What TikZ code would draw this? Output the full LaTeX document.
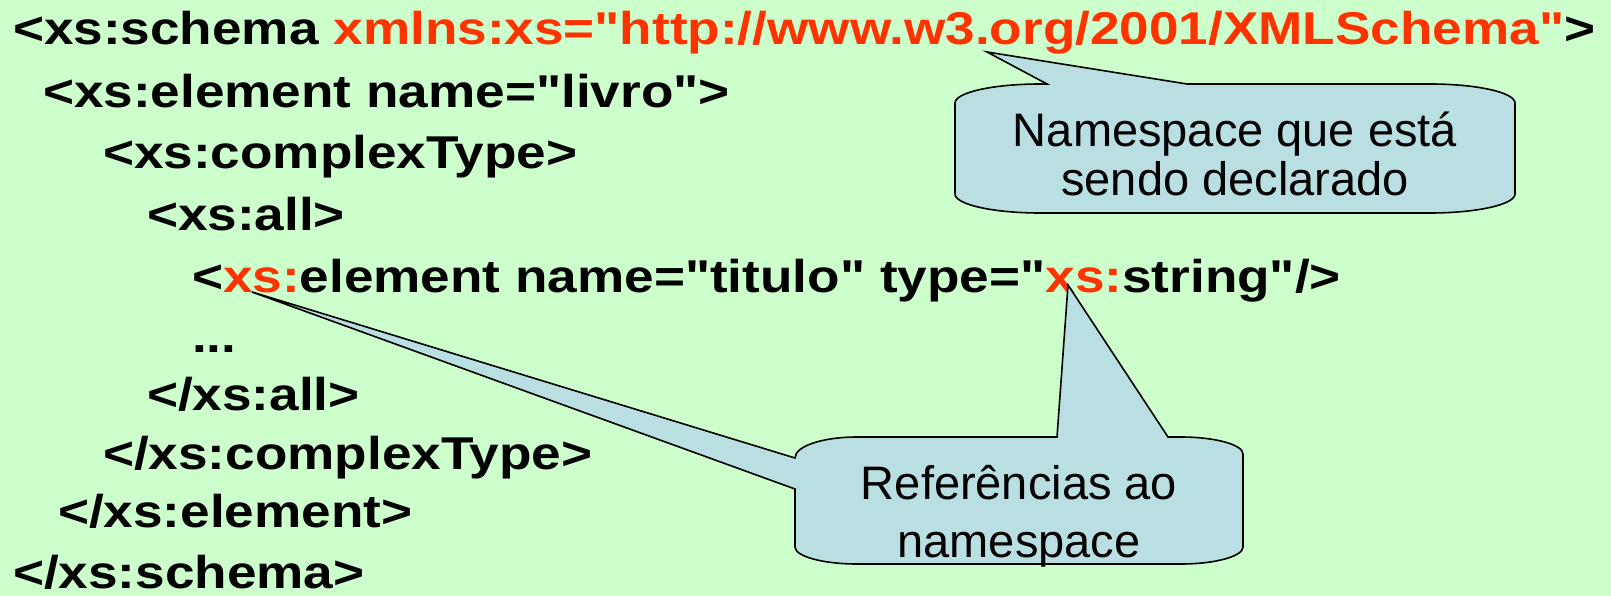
\documentclass[tikz,border=0pt]{standalone}
\usepackage{fontspec}
\setmainfont{Liberation Sans}
\newfontfamily\codefont{Liberation Sans}[FakeStretch=1.155]
\definecolor{pagebg}{HTML}{CCFFCC}
\definecolor{xsred}{HTML}{FF3300}
\definecolor{calloutfill}{HTML}{B9DFE3}
\newcommand\redtxt[1]{\textcolor{xsred}{#1}}
\tikzset{
  codeline/.style={anchor=base west, inner sep=0pt, outer sep=0pt,
    font=\codefont\bfseries\fontsize{46}{50}\selectfont},
  callouttext/.style={anchor=base, inner sep=0pt, outer sep=0pt,
    font=\fontsize{47}{50}\selectfont},
  callout/.style={draw=black, line width=1.6pt, fill=calloutfill, line join=miter}
}
\begin{document}
\begin{tikzpicture}[x=1pt, y=-1pt]
  \useasboundingbox (0,0) rectangle (1611,596);
  \fill[pagebg] (0,0) rectangle (1611,596);

  % XML schema listing
  \node[codeline] (l1) at (13,45) {<xs:schema \redtxt{xmlns:xs="http://www.w3.org/2001/XMLSchema"}>};
  \node[codeline] (l2) at (43,108) {<xs:element name="livro">};
  \node[codeline] (l3) at (103,169) {<xs:complexType>};
  \node[codeline] (l4) at (147,230) {<xs:all>};
  \node[codeline] (l5) at (192,292) {<\redtxt{xs:}element name="titulo" type="\redtxt{xs:}string"/>};
  \node[codeline] (l6) at (192,352) {...};
  \node[codeline] (l7) at (147,410) {</xs:all>};
  \node[codeline] (l8) at (103,469) {</xs:complexType>};
  \node[codeline] (l9) at (58,527) {</xs:element>};
  \node[codeline] (l10) at (13,588) {</xs:schema>};

  % pointer tips of the callouts
  \coordinate (tipNs) at (987,52);
  \coordinate (tipRefA) at (252,292);
  \coordinate (tipRefB) at (1068,285);

  % callout: namespace being declared
  \path[callout] (1047,84) -- (tipNs) -- (1187,84) -- (1430,84)
    .. controls (1477,84) and (1515,92.5) .. (1515,103)
    -- (1515,194)
    .. controls (1515,204.5) and (1477,213) .. (1430,213)
    -- (1040,213)
    .. controls (993,213) and (955,204.5) .. (955,194)
    -- (955,103)
    .. controls (955,92.5) and (993,84) .. (1040,84)
    -- cycle;
  \node[callouttext] (ns1) at (1235,147) {Namespace que está};
  \node[callouttext] (ns2) at (1235,196) {sendo declarado};

  % callout: references to the namespace
  \path[callout] (857,437) -- (1057,437) -- (tipRefB) -- (1168,437) -- (1181,437)
    .. controls (1215,437) and (1243,444.6) .. (1243,454)
    -- (1243,547)
    .. controls (1243,556.4) and (1215,564) .. (1181,564)
    -- (857,564)
    .. controls (823,564) and (795,556.4) .. (795,547)
    -- (795,489) -- (tipRefA) -- (795,458)
    .. controls (795,446) and (823,437) .. (857,437)
    -- cycle;
  \node[callouttext] (ref1) at (1019,499) {Referências ao};
  \node[callouttext] (ref2) at (1019,557) {namespace};
\end{tikzpicture}
\end{document}
